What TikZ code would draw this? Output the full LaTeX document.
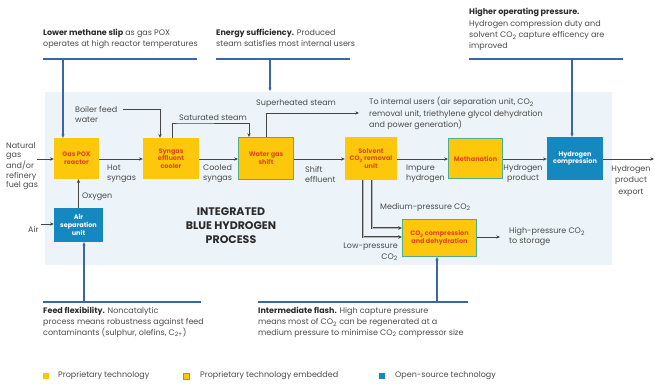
\documentclass[tikz,border=0pt]{standalone}
\usepackage{fontspec}
\setmainfont{Poppins}
\usetikzlibrary{arrows.meta}
\definecolor{propY}{HTML}{FDC80C}
\definecolor{osBlue}{HTML}{1588BF}
\definecolor{embG}{HTML}{4FAE8C}
\definecolor{panelC}{HTML}{EDF4F9}
\definecolor{callB}{HTML}{3B66A6}
\definecolor{flowC}{HTML}{454545}
\definecolor{boxTxt}{HTML}{E2461C}
\definecolor{txtC}{HTML}{4A4A4A}
\definecolor{headC}{HTML}{2A2A2A}
\tikzset{
  box/.style={inner sep=1pt, align=center, font=\fontsize{6.5}{7.6}\selectfont\bfseries},
  prop/.style={box, fill=propY, text=boxTxt},
  emb/.style={box, fill=propY, text=boxTxt, draw=embG, line width=1.1pt},
  osrc/.style={box, fill=osBlue, text=white},
  flow/.style={draw=flowC, line width=0.75pt, -{Stealth[length=3.8pt,width=3.4pt]}},
  dflow/.style={draw=flowC, double=flowC!40, double distance=0.6pt, line width=0.6pt, -{Stealth[length=3.8pt,width=3.6pt]}},
  call/.style={draw=callB, line width=1.3pt},
  callarr/.style={draw=callB, line width=1.1pt, -{Stealth[length=3.4pt,width=3.2pt]}},
  lbl/.style={inner sep=0pt, text=txtC, font=\fontsize{8}{10}\selectfont},
  ctext/.style={inner sep=0pt, text=txtC, align=left, anchor=north west, font=\fontsize{8}{10.8}\selectfont},
  legtxt/.style={inner sep=0pt, text=txtC, anchor=west, font=\fontsize{8}{9}\selectfont},
}
\newcommand{\cotwo}{CO\textsubscript{2}}
\begin{document}
\begin{tikzpicture}[x=1pt,y=-1pt]
\useasboundingbox (0,0) rectangle (655,385);
% panel
\fill[panelC] (45,92) rectangle (612,265);

% boxes
\node[prop, minimum width=45pt, minimum height=41pt] (pox) at (76.5,158.5) {Gas POX\\reactor};
\node[prop, minimum width=56pt, minimum height=41pt] (cool) at (171,158.5) {Syngas\\effluent\\cooler};
\node[emb, minimum width=55pt, minimum height=42pt] (wgs) at (266,158.5) {Water gas\\shift};
\node[prop, minimum width=52pt, minimum height=43pt] (solv) at (371,158.5) {Solvent\\\cotwo{} removal\\unit};
\node[emb, minimum width=54pt, minimum height=40pt] (meth) at (475.5,158.5) {Methanation};
\node[osrc, minimum width=56pt, minimum height=43pt] (h2c) at (575,158.5) {Hydrogen\\compression};
\node[osrc, minimum width=49pt, minimum height=34pt] (asu) at (78.5,225) {Air\\separation\\unit};
\node[emb, minimum width=74pt, minimum height=37pt] (co2c) at (439.5,238) {\cotwo{} compression\\and dehydration};

% labels
\node[lbl, align=left, anchor=west, font=\fontsize{8}{9.6}\selectfont] (ng) at (6,166) {Natural\\gas\\and/or\\refinery\\fuel gas};
\coordinate (ngEnd) at (37,159);
\node[lbl, align=left, anchor=west] (hot) at (107,174) {Hot\\syngas};
\node[lbl, align=left, anchor=west] (cld) at (203,174) {Cooled\\syngas};
\node[lbl, align=left, anchor=west] (shf) at (305,174) {Shift\\effluent};
\node[lbl, align=left, anchor=west] (imp) at (406,174) {Impure\\hydrogen};
\node[lbl, align=center] (hpr) at (523,174) {Hydrogen\\product};
\node[lbl, align=center, font=\fontsize{8}{11.5}\selectfont] (hex) at (631,181) {Hydrogen\\product\\export};
\coordinate (expEnd) at (654,159);
\node[lbl, align=left, anchor=west] (bfw) at (75,114) {Boiler feed\\water};
\coordinate (bfwS) at (123,109);
\node[lbl, anchor=west] (sat) at (179,118) {Saturated steam};
\node[lbl, anchor=west] (sup) at (256,104) {Superheated steam};
\coordinate (supEnd) at (359,113);
\node[ctext, font=\fontsize{8}{11.5}\selectfont] (toint) at (369,97) {To internal users (air separation unit, \cotwo\\removal unit, triethylene glycol dehydration\\and power generation)};
\node[lbl, anchor=west] (oxy) at (82,197) {Oxygen};
\node[lbl, anchor=west] (air) at (28,229) {Air};
\coordinate (airS) at (41,224);
\node[lbl, anchor=west] (mp) at (380,207) {Medium-pressure \cotwo};
\node[lbl, anchor=east, align=right, font=\fontsize{8}{10.5}\selectfont] (lp) at (398,252) {Low-pressure\\\cotwo};
\node[lbl, anchor=west, align=left] (hp) at (509,237) {High-pressure \cotwo\\to storage};
\coordinate (mpEnd) at (400,228);
\coordinate (lpEnd) at (400,237);
\coordinate (hpEnd) at (500,237);
\node[inner sep=0pt, text=headC, align=center, font=\fontsize{11}{14}\selectfont\bfseries] (title) at (231,226) {INTEGRATED\\BLUE HYDROGEN\\PROCESS};

% main flow
\draw[flow] (ngEnd) -- (ngEnd -| pox.west);
\draw[flow] (pox.east |- ngEnd) -- (cool.west |- ngEnd);
\draw[flow] (cool.east |- ngEnd) -- (wgs.west |- ngEnd);
\draw[flow] (wgs.east |- ngEnd) -- (solv.west |- ngEnd);
\draw[flow] (solv.east |- ngEnd) -- (meth.west |- ngEnd);
\draw[flow] (meth.east |- ngEnd) -- (h2c.west |- ngEnd);
\draw[flow] (h2c.east |- ngEnd) -- (expEnd);
\draw[flow] (bfwS) -| ([xshift=-11pt]cool.north);
\draw[flow] ([xshift=1pt]cool.north) |- (180,123) -| ([xshift=-17pt]wgs.north);
\draw[flow] (wgs.north) |- (supEnd);
\draw[flow] (asu.north) -- (asu.north |- pox.south);
\draw[flow] (airS) -- (airS -| asu.west);
\draw[dflow] ([xshift=1pt]solv.south) |- (co2c.west |- mpEnd);
\draw[dflow] ([xshift=-8pt]solv.south) |- (co2c.west |- lpEnd);
\draw[flow] (co2c.east |- hpEnd) -- (hpEnd);

% callouts top
\node[ctext] (c1) at (43,29) {\textbf{\color{headC}Lower methane slip} as gas POX\\operates at high reactor temperatures};
\draw[call] (43,59) -- (197,59);
\coordinate (c1a) at (63,59);
\draw[callarr] (c1a) -- (c1a |- pox.north);

\node[ctext] (c2) at (216,29) {\textbf{\color{headC}Energy sufficiency.} Produced\\steam satisfies most internal users};
\draw[call] (216,59) -- (350,59);
\coordinate (c2a) at (270,59);
\coordinate (c2b) at (270,91);
\draw[callarr] (c2a) -- (c2b);

\node[ctext, font=\fontsize{8}{11.4}\selectfont] (c3) at (469,8) {\textbf{\color{headC}Higher operating pressure.}\\Hydrogen compression duty and\\solvent \cotwo{} capture efficency are\\improved};
\draw[call] (469,59) -- (623,59);
\coordinate (c3a) at (572,59);
\draw[callarr] (c3a) -- (c3a |- h2c.north);

% callouts bottom
\draw[call] (43,302) -- (201,302);
\coordinate (c4a) at (84,302);
\draw[callarr] (c4a) -- (c4a |- asu.south);
\node[ctext] (c4) at (43,307) {\textbf{\color{headC}Feed flexibility.} Noncatalytic\\process means robustness against feed\\contaminants (sulphur, olefins, C\textsubscript{2+})};

\draw[call] (258,302) -- (468,302);
\coordinate (c5a) at (437,302);
\draw[callarr] (c5a) -- (c5a |- co2c.south);
\node[ctext] (c5) at (258,307) {\textbf{\color{headC}Intermediate flash.} High capture pressure\\means most of \cotwo{} can be regenerated at a\\medium pressure to minimise \cotwo{} compressor size};

% legend
\node[fill=propY, minimum size=5.5pt, inner sep=0pt] (lg1) at (46,376) {};
\node[legtxt] (lt1) at (58,376) {Proprietary technology};
\node[fill=propY, draw=embG, line width=1pt, minimum size=6pt, inner sep=0pt] (lg2) at (186.5,376) {};
\node[legtxt] (lt2) at (200,376) {Proprietary technology embedded};
\node[fill=osBlue, minimum size=5.5pt, inner sep=0pt] (lg3) at (382,376) {};
\node[legtxt] (lt3) at (395,376) {Open-source technology};
\end{tikzpicture}
\end{document}
